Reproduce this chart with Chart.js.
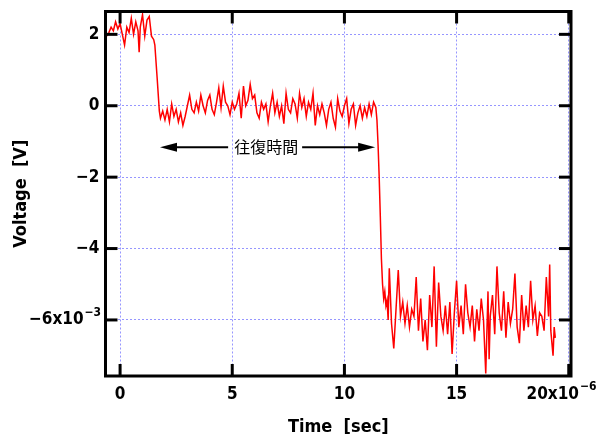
<!DOCTYPE html>
<html><head><meta charset="utf-8">
<script src="https://cdn.jsdelivr.net/npm/chart.js@4.4.0/dist/chart.umd.min.js"></script>
<style>html,body{margin:0;padding:0;background:#fff}#wrap{width:601px;height:439px}</style>
</head><body><div id="wrap"><canvas id="c" width="601" height="439"></canvas></div>
<script>
// time in units of 1e-6 s
const timeUs = [
 -0.6,-0.5,-0.4,-0.3,-0.2,-0.1,0,0.1,0.2,0.3,0.4,0.5,0.6,0.7,0.8,0.85,0.9,1.0,1.1,1.2,1.3,1.4,1.5,1.55,1.65,1.75,
 1.8,1.9,2.0,2.1,2.2,2.3,2.4,2.5,2.6,2.7,
 2.8,2.9,3.0,3.1,3.2,3.3,3.4,3.5,3.6,3.7,
 3.8,3.9,4.0,4.1,4.2,4.3,4.4,4.5,4.6,4.7,
 4.8,4.9,5.0,5.1,5.2,5.3,5.4,5.5,5.6,5.7,
 5.8,5.9,6.0,6.1,6.2,6.3,6.4,6.5,6.6,6.7,
 6.8,6.9,7.0,7.1,7.2,7.3,7.4,7.5,7.6,7.7,
 7.8,7.9,8.0,8.1,8.2,8.3,8.4,8.5,8.6,8.7,
 8.8,8.9,9.0,9.1,9.2,9.3,9.4,9.5,9.6,9.7,
 9.8,9.9,10.0,10.1,10.2,10.3,10.4,10.5,10.6,10.7,
 10.8,10.9,11.0,11.1,11.2,11.3,11.4,
 11.45,11.5,11.55,11.6,11.65,11.7,11.75,11.8,11.85,11.9,11.95,
 12.0,12.1,12.2,12.3,12.4,12.5,12.6,12.7,12.8,12.9,
 13.0,13.1,13.2,13.3,13.4,13.5,13.6,13.7,13.8,13.9,
 14.0,14.1,14.2,14.3,14.4,14.5,14.6,14.7,14.8,14.9,
 15.0,15.1,15.2,15.3,15.4,15.5,15.6,15.7,15.8,15.9,
 16.0,16.1,16.2,16.3,16.4,16.45,16.5,16.6,16.7,16.8,16.9,
 17.0,17.1,17.2,17.3,17.4,17.5,17.6,17.7,17.8,17.9,
 18.0,18.1,18.2,18.3,18.4,18.5,18.6,18.7,18.8,18.9,
 19.0,19.1,19.15,19.2,19.3,19.35,19.4
];
// voltage in units of 1e-3 V
const voltageMv = [
 1.95,2.05,2.2,2.1,2.35,2.15,2.3,2.0,1.7,2.2,2.05,2.45,2.0,2.35,2.1,1.5,2.2,2.55,1.95,2.4,2.5,1.95,1.85,1.7,0.8,-0.15,
 -0.35,-0.15,-0.4,-0.1,-0.45,0.05,-0.3,-0.1,-0.45,-0.2,
 -0.55,-0.3,0.0,0.3,-0.1,-0.2,0.1,-0.15,0.3,0.0,
 -0.2,0.15,0.3,-0.1,-0.25,0.1,0.5,-0.05,0.55,0.1,
 0.0,-0.25,0.1,-0.1,0.05,0.35,-0.35,0.55,0.0,0.15,
 0.6,0.2,0.3,-0.2,-0.35,0.1,-0.1,0.05,-0.45,0.0,
 0.35,-0.2,0.1,-0.3,0.0,-0.5,0.35,-0.1,-0.2,0.2,
 0.05,-0.35,0.35,-0.05,0.2,-0.3,0.1,-0.1,0.35,-0.55,
 0.0,-0.25,0.05,-0.2,-0.55,-0.1,0.1,-0.35,-0.6,0.2,
 -0.15,-0.3,0.0,0.2,-0.5,-0.1,0.05,-0.55,-0.2,0.0,
 -0.35,-0.05,-0.3,0.05,-0.25,0.1,-0.05,
 -0.4,-1.1,-2.0,-3.1,-4.3,-5.0,-5.4,-5.2,-5.6,-5.45,-6.0,
 -4.55,-6.1,-6.8,-5.7,-4.6,-5.9,-5.5,-6.1,-5.6,-6.2,
 -5.7,-5.9,-4.8,-6.3,-5.4,-6.6,-6.0,-6.85,-5.3,-6.2,
 -4.5,-6.75,-4.95,-5.9,-6.3,-5.6,-6.4,-5.5,-6.95,-5.8,
 -4.9,-6.2,-5.6,-6.4,-5.0,-5.8,-6.2,-5.6,-6.6,-5.7,
 -6.3,-5.4,-6.0,-7.5,-5.2,-7.1,-5.9,-5.3,-6.4,-4.5,-5.8,
 -6.3,-5.2,-6.5,-5.5,-6.1,-5.7,-4.7,-6.2,-6.65,-5.3,
 -6.3,-5.6,-6.2,-4.9,-6.0,-5.6,-6.45,-5.8,-5.9,-6.3,
 -4.8,-5.9,-4.45,-6.3,-7.0,-6.2,-6.5
];
const xTickValues = [0,5,10,15,20];
const xTickLabels = ['0','5','10','15','20x10      '];
const xExponent = '\u22126';
const yTickValues = [2,0,-2,-4,-6];
const yTickLabels = ['2','0','\u22122','\u22124','\u22126x10   '];
const yExponent = '\u22123';
const xTitle = 'Time  [sec]';
const yTitle = 'Voltage  [V]';
const annotationText = '往復時間';
const arrowFrom = 1.78, arrowTo = 11.37, arrowAt = -1.16, annotationX = 6.51;

const tickFont = "'Liberation Sans Narrow','DejaVu Sans Condensed',sans-serif";
const TL = 12;

const framePlugin = {
  id: 'frame',
  afterDraw(chart) {
    const {ctx, chartArea: a, scales: {x, y}} = chart;
    ctx.save();
    ctx.strokeStyle = '#000';
    ctx.lineWidth = 3;
    ctx.lineCap = 'butt';
    const seg = (x1, y1, x2, y2) => { ctx.beginPath(); ctx.moveTo(x1, y1); ctx.lineTo(x2, y2); ctx.stroke(); };
    xTickValues.forEach(v => {
      const px = x.getPixelForValue(v);
      seg(px, a.top, px, a.top + TL);
      seg(px, a.bottom, px, a.bottom - TL);
    });
    yTickValues.forEach(v => {
      const py = y.getPixelForValue(v);
      seg(a.left, py, a.left + TL, py);
      seg(a.right, py, a.right - TL, py);
    });
    ctx.strokeRect(a.left, a.top, a.right - a.left, a.bottom - a.top);

    // exponents
    ctx.fillStyle = '#000';
    ctx.font = "bold 17px " + tickFont;
    const xl = xTickLabels[4], xMain = xl.trimEnd();
    const px20 = x.getPixelForValue(20);
    const xStart = px20 - ctx.measureText(xl).width / 2 + ctx.measureText(xMain).width;
    const yl = yTickLabels[4], yMain = yl.trimEnd();
    const yRight = a.left - 6;
    const yStart = yRight - ctx.measureText(yl).width + ctx.measureText(yMain).width;
    ctx.font = "bold 12px " + tickFont;
    ctx.textAlign = 'left';
    ctx.textBaseline = 'middle';
    ctx.fillText(xExponent, xStart + 1, a.bottom + 11);
    ctx.fillText(yExponent, yStart + 1, y.getPixelForValue(-6) - 7);

    // annotation arrow
    const ax1 = x.getPixelForValue(arrowFrom), ax2 = x.getPixelForValue(arrowTo);
    const ay = y.getPixelForValue(arrowAt);
    const tx = x.getPixelForValue(annotationX);
    ctx.font = "16px 'Noto Sans CJK JP', sans-serif";
    const tw = ctx.measureText(annotationText).width;
    ctx.lineWidth = 2;
    seg(ax1 + 10, ay, tx - tw / 2 - 6, ay);
    seg(tx + tw / 2 + 4, ay, ax2 - 10, ay);
    ctx.beginPath();
    ctx.moveTo(ax1, ay); ctx.lineTo(ax1 + 17, ay - 4.5); ctx.lineTo(ax1 + 17, ay + 4.5); ctx.closePath(); ctx.fill();
    ctx.beginPath();
    ctx.moveTo(ax2, ay); ctx.lineTo(ax2 - 17, ay - 4.5); ctx.lineTo(ax2 - 17, ay + 4.5); ctx.closePath(); ctx.fill();
    ctx.textAlign = 'center';
    ctx.fillText(annotationText, tx, ay);
    ctx.restore();
  }
};

const gridColor = 'rgb(150,150,255)';
new Chart(document.getElementById('c'), {
  type: 'line',
  data: { datasets: [{
    data: timeUs.map((t, i) => ({x: t, y: voltageMv[i]})),
    borderColor: '#ff0000', borderWidth: 1.5, pointRadius: 0, tension: 0, fill: false
  }]},
  options: {
    responsive: false, animation: false,
    layout: { padding: { left: 0, right: 30, top: 11.5, bottom: 0 } },
    plugins: { legend: { display: false }, tooltip: { enabled: false } },
    scales: {
      x: {
        type: 'linear', min: -0.65, max: 20.1,
        afterBuildTicks: s => { s.ticks = xTickValues.map(v => ({value: v})); },
        afterFit: s => { s.height = 63; s.paddingLeft = 0; s.paddingRight = 0; },
        ticks: { callback: v => { const i = xTickValues.indexOf(v); return i < 0 ? '' : xTickLabels[i]; },
          font: { family: tickFont, size: 17, weight: 'bold' }, color: '#000', padding: 8, maxRotation: 0, autoSkip: false, includeBounds: false },
        grid: { color: gridColor, lineWidth: 1, drawTicks: false },
        border: { display: false, dash: [2, 2] },
        title: { display: true, text: xTitle, color: '#000', font: { family: tickFont, size: 18, weight: 'bold' }, padding: { top: 0, bottom: 1 } }
      },
      y: {
        type: 'linear', min: -7.57, max: 2.64,
        afterBuildTicks: s => { s.ticks = yTickValues.map(v => ({value: v})); },
        afterFit: s => { s.width = 105.5; s.paddingTop = 0; s.paddingBottom = 0; },
        ticks: { callback: v => { const i = yTickValues.indexOf(v); return i < 0 ? '' : yTickLabels[i]; },
          font: { family: tickFont, size: 17, weight: 'bold' }, color: '#000', padding: 6, autoSkip: false, includeBounds: false },
        grid: { color: gridColor, lineWidth: 1, drawTicks: false },
        border: { display: false, dash: [2, 2] },
        title: { display: true, text: yTitle, color: '#000', font: { family: tickFont, size: 18, weight: 'bold' }, padding: { top: 11, bottom: 0 } }
      }
    }
  },
  plugins: [framePlugin]
});
</script>
</body></html>
